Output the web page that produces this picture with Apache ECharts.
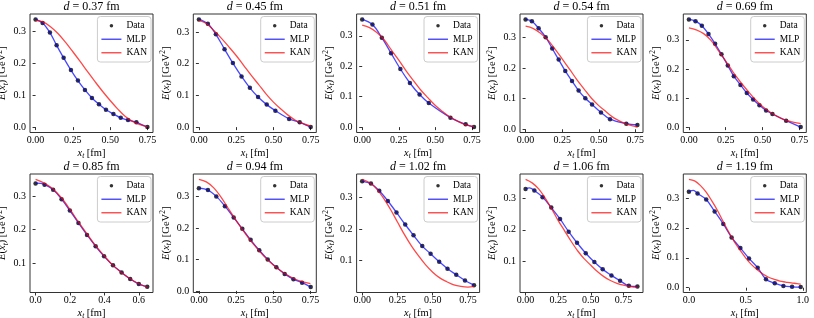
<!DOCTYPE html>
<html><head><meta charset="utf-8">
<script src="https://cdn.jsdelivr.net/npm/echarts@6/dist/echarts.min.js"></script>
<style>html,body{margin:0;padding:0;background:#fff}#c{width:814px;height:318px}</style>
</head><body><div id="c"></div>
<script>
// ---------- data ----------
const titles = ['0.37','0.45','0.51','0.54','0.69','0.85','0.94','1.02','1.06','1.19'];

const dataX1 = [0,0.047,0.096,0.141,0.188,0.237,0.284,0.331,0.378,0.425,0.472,0.522,0.571,0.62,0.676,0.75];
const dataY1 = [0.336,0.325,0.295,0.255,0.216,0.178,0.145,0.116,0.091,0.071,0.054,0.041,0.029,0.022,0.015,0.0];
const dataX2 = [0,0.06,0.114,0.172,0.228,0.286,0.342,0.397,0.455,0.513,0.605,0.676,0.75];
const dataY2 = [0.34,0.326,0.293,0.246,0.202,0.16,0.124,0.095,0.071,0.052,0.026,0.015,0.0];
const dataX3 = [0,0.07,0.134,0.197,0.261,0.326,0.392,0.455,0.603,0.707,0.764];
const dataY3 = [0.354,0.337,0.294,0.243,0.191,0.145,0.107,0.079,0.031,0.009,0.0];
const dataX4 = [0,0.043,0.089,0.137,0.182,0.226,0.271,0.317,0.362,0.408,0.454,0.515,0.577,0.688,0.764];
const dataY4 = [0.358,0.352,0.329,0.3,0.263,0.227,0.19,0.157,0.126,0.101,0.081,0.055,0.033,0.018,0.014];
const dataX5 = [0,0.045,0.088,0.133,0.178,0.221,0.264,0.305,0.35,0.393,0.436,0.479,0.524,0.567,0.66,0.759];
const dataY5 = [0.37,0.364,0.348,0.32,0.286,0.25,0.212,0.175,0.145,0.117,0.095,0.075,0.057,0.045,0.022,0.0];
const dataX6 = [0,0.052,0.102,0.151,0.199,0.249,0.299,0.349,0.398,0.45,0.5,0.55,0.6,0.649];
const dataY6 = [0.338,0.334,0.319,0.291,0.257,0.22,0.184,0.15,0.12,0.093,0.072,0.052,0.037,0.029];
const dataX7 = [0,0.061,0.117,0.175,0.234,0.292,0.348,0.406,0.463,0.521,0.577,0.636,0.694,0.752];
const dataY7 = [0.326,0.32,0.3,0.269,0.233,0.197,0.162,0.129,0.1,0.075,0.054,0.037,0.026,0.012];
const dataX8 = [0,0.062,0.121,0.182,0.243,0.305,0.364,0.426,0.485,0.546,0.605,0.667,0.729,0.793];
const dataY8 = [0.35,0.343,0.32,0.288,0.252,0.214,0.18,0.146,0.122,0.097,0.075,0.056,0.038,0.023];
const dataX9 = [0,0.067,0.13,0.197,0.264,0.33,0.394,0.461,0.527,0.591,0.658,0.724,0.791,0.857];
const dataY9 = [0.329,0.324,0.303,0.27,0.234,0.194,0.159,0.126,0.098,0.075,0.056,0.039,0.023,0.021];
const dataX10 = [0,0.076,0.152,0.226,0.302,0.375,0.452,0.528,0.604,0.677,0.754,0.83,0.906,0.982];
const dataY10 = [0.321,0.315,0.295,0.255,0.213,0.168,0.133,0.098,0.067,0.028,0.015,0.006,0.003,0.002];

const mlpX1 = dataX1, mlpY1 = dataY1;
const mlpX2 = dataX2, mlpY2 = dataY2;
const mlpX3 = dataX3, mlpY3 = dataY3;
const mlpX4 = dataX4, mlpY4 = dataY4;
const mlpX5 = dataX5, mlpY5 = dataY5;
const mlpX6 = [0,0.03,0.052,0.102,0.151,0.199,0.249,0.299,0.349,0.398,0.45,0.5,0.55,0.6,0.649];
const mlpY6 = [0.339,0.338,0.335,0.319,0.291,0.257,0.22,0.184,0.15,0.12,0.093,0.072,0.052,0.037,0.029];
const mlpX7 = dataX7, mlpY7 = dataY7;
const mlpX8 = dataX8, mlpY8 = dataY8;
const mlpX9 = [0,0.03,0.067,0.13,0.197,0.264,0.33,0.394,0.461,0.527,0.591,0.658,0.724,0.791,0.857];
const mlpY9 = [0.329,0.332,0.324,0.303,0.27,0.234,0.194,0.159,0.126,0.098,0.075,0.056,0.039,0.023,0.021];
const mlpX10 = [0,0.04,0.076,0.152,0.226,0.302,0.375,0.452,0.528,0.604,0.677,0.754,0.83,0.906,0.982];
const mlpY10 = [0.321,0.325,0.315,0.295,0.255,0.213,0.168,0.133,0.098,0.067,0.028,0.015,0.006,0.003,0.002];

const kanX1 = [0,0.05,0.1,0.15,0.2,0.25,0.3,0.35,0.4,0.45,0.5,0.55,0.6,0.65,0.7,0.75];
const kanY1 = [0.333,0.328,0.313,0.292,0.265,0.235,0.204,0.172,0.141,0.111,0.083,0.057,0.034,0.018,0.008,0.001];
const kanX2 = [0,0.05,0.1,0.15,0.2,0.25,0.3,0.35,0.4,0.45,0.5,0.55,0.6,0.65,0.7,0.75];
const kanY2 = [0.337,0.327,0.305,0.281,0.254,0.226,0.195,0.164,0.135,0.105,0.079,0.057,0.037,0.021,0.011,0.003];
const kanX3 = [0,0.05,0.1,0.15,0.2,0.25,0.3,0.35,0.4,0.45,0.5,0.55,0.6,0.65,0.7,0.75,0.764];
const kanY3 = [0.335,0.327,0.311,0.287,0.253,0.22,0.185,0.153,0.122,0.096,0.071,0.051,0.033,0.02,0.009,0.003,0.002];
const kanX4 = [0,0.05,0.1,0.15,0.2,0.25,0.3,0.35,0.4,0.45,0.5,0.55,0.6,0.65,0.7,0.75,0.764];
const kanY4 = [0.336,0.329,0.314,0.292,0.262,0.229,0.196,0.162,0.131,0.101,0.077,0.057,0.038,0.025,0.015,0.009,0.007];
const kanX5 = [0,0.05,0.1,0.15,0.2,0.25,0.3,0.35,0.4,0.45,0.5,0.55,0.6,0.65,0.7,0.75,0.759];
const kanY5 = [0.341,0.334,0.321,0.298,0.263,0.227,0.189,0.155,0.124,0.095,0.071,0.052,0.037,0.025,0.018,0.013,0.012];
const kanX6 = [0,0.05,0.1,0.15,0.2,0.25,0.3,0.35,0.4,0.45,0.5,0.55,0.6,0.65];
const kanY6 = [0.35,0.339,0.322,0.295,0.26,0.222,0.186,0.151,0.121,0.093,0.071,0.053,0.038,0.028];
const kanX7 = [0,0.05,0.1,0.15,0.2,0.25,0.3,0.35,0.4,0.45,0.5,0.55,0.6,0.65,0.7,0.75];
const kanY7 = [0.354,0.346,0.327,0.297,0.26,0.224,0.19,0.158,0.13,0.104,0.082,0.064,0.049,0.037,0.029,0.023];
const kanX8 = [0,0.05,0.1,0.15,0.2,0.25,0.3,0.35,0.4,0.45,0.5,0.55,0.6,0.65,0.7,0.75,0.793];
const kanY8 = [0.356,0.346,0.327,0.298,0.262,0.222,0.182,0.146,0.115,0.087,0.064,0.046,0.034,0.024,0.019,0.017,0.019];
const kanX9 = [0,0.05,0.1,0.15,0.2,0.25,0.3,0.35,0.4,0.45,0.5,0.55,0.6,0.65,0.7,0.75,0.8,0.85,0.857];
const kanY9 = [0.359,0.348,0.329,0.3,0.266,0.229,0.196,0.163,0.133,0.108,0.088,0.068,0.052,0.04,0.031,0.025,0.021,0.019,0.019];
const kanX10 = [0,0.05,0.1,0.15,0.2,0.25,0.3,0.35,0.4,0.45,0.5,0.55,0.6,0.65,0.7,0.75,0.8,0.85,0.9,0.95,0.982];
const kanY10 = [0.362,0.357,0.342,0.32,0.291,0.259,0.222,0.186,0.153,0.125,0.099,0.077,0.06,0.046,0.035,0.028,0.022,0.019,0.016,0.014,0.012];

const xTicksQuarter = [0,0.25,0.5,0.75];
const xTicksFifth = [0,0.2,0.4,0.6];
const xTicksHalf = [0,0.5,1.0];
const yTicksFrom0 = [0,0.1,0.2,0.3];
const yTicksFrom1 = [0.1,0.2,0.3];

// ---------- panels ----------
const panels = [
  {t:titles[0], dx:dataX1, dy:dataY1, mx:mlpX1, my:mlpY1, kx:kanX1, ky:kanY1, xt:xTicksQuarter, xd:2, yt:yTicksFrom0},
  {t:titles[1], dx:dataX2, dy:dataY2, mx:mlpX2, my:mlpY2, kx:kanX2, ky:kanY2, xt:xTicksQuarter, xd:2, yt:yTicksFrom0},
  {t:titles[2], dx:dataX3, dy:dataY3, mx:mlpX3, my:mlpY3, kx:kanX3, ky:kanY3, xt:xTicksQuarter, xd:2, yt:yTicksFrom0},
  {t:titles[3], dx:dataX4, dy:dataY4, mx:mlpX4, my:mlpY4, kx:kanX4, ky:kanY4, xt:xTicksQuarter, xd:2, yt:yTicksFrom0},
  {t:titles[4], dx:dataX5, dy:dataY5, mx:mlpX5, my:mlpY5, kx:kanX5, ky:kanY5, xt:xTicksQuarter, xd:2, yt:yTicksFrom0},
  {t:titles[5], dx:dataX6, dy:dataY6, mx:mlpX6, my:mlpY6, kx:kanX6, ky:kanY6, xt:xTicksFifth, xd:1, yt:yTicksFrom1},
  {t:titles[6], dx:dataX7, dy:dataY7, mx:mlpX7, my:mlpY7, kx:kanX7, ky:kanY7, xt:xTicksQuarter, xd:2, yt:yTicksFrom0},
  {t:titles[7], dx:dataX8, dy:dataY8, mx:mlpX8, my:mlpY8, kx:kanX8, ky:kanY8, xt:xTicksQuarter, xd:2, yt:yTicksFrom1},
  {t:titles[8], dx:dataX9, dy:dataY9, mx:mlpX9, my:mlpY9, kx:kanX9, ky:kanY9, xt:xTicksQuarter, xd:2, yt:yTicksFrom1},
  {t:titles[9], dx:dataX10, dy:dataY10, mx:mlpX10, my:mlpY10, kx:kanX10, ky:kanY10, xt:xTicksHalf, xd:1, yt:yTicksFrom0}
];

// ---------- layout & style ----------
const W = 814;
const FONT = '"Liberation Serif","DejaVu Serif",serif';
const gridLefts = [30, 193.3, 356.6, 520, 683.3];
const gridTops = [14, 174];
const GW = 123, GH = 118.5;
const BLUE = 'rgba(0,0,255,0.72)', RED = 'rgba(255,0,0,0.72)';
const lineIcon = 'path://M0,0L20,0L20,1.4L0,1.4Z';

function zip(a, b) { return a.map((v, i) => [v, b[i]]); }
function pad(vals) {
  const mn = Math.min(...vals), mx = Math.max(...vals), m = (mx - mn) * 0.05;
  return [mn - m, mx + m];
}
const richBase = {
  i: {fontFamily: FONT, fontStyle: 'italic', fontSize: 10.5, lineHeight: 14},
  n: {fontFamily: FONT, fontSize: 10.5, lineHeight: 14},
  sub: {fontFamily: FONT, fontStyle: 'italic', fontSize: 7.5, lineHeight: 8, verticalAlign: 'bottom'},
  sup: {fontFamily: FONT, fontSize: 7.5, lineHeight: 8, verticalAlign: 'top'}
};

const grid = [], xAxis = [], yAxis = [], series = [], legend = [], graphic = [];
panels.forEach((p, i) => {
  const col = i % 5, row = Math.floor(i / 5);
  const gl = gridLefts[col], gt = gridTops[row];
  grid.push({left: gl, top: gt, width: GW, height: GH, show: true,
    borderColor: '#333', borderWidth: 1, backgroundColor: 'transparent', containLabel: false, outerBoundsMode: 'none'});
  const xr = pad(p.dx.concat(p.mx, p.kx));
  const yr = pad(p.dy.concat(p.my, p.ky));
  const axisCommon = {
    axisLine: {show: false},
    splitLine: {show: false},
    nameTextStyle: {fontFamily: FONT, fontSize: 10.5, color: '#000', lineHeight: 14, rich: richBase}
  };
  xAxis.push(Object.assign({}, axisCommon, {
    gridIndex: i, type: 'value', min: xr[0], max: xr[1],
    axisTick: {show: true, length: 3, customValues: p.xt, lineStyle: {color: '#333', width: 1}},
    axisLabel: {customValues: p.xt, formatter: v => v.toFixed(p.xd), margin: 3,
      fontFamily: FONT, fontSize: 10, color: '#000'},
    name: '{i|x}{sub|t}{n| [fm]}', nameLocation: 'middle', nameGap: 12
  }));
  yAxis.push(Object.assign({}, axisCommon, {
    gridIndex: i, type: 'value', min: yr[0], max: yr[1],
    axisTick: {show: true, length: 3, customValues: p.yt, lineStyle: {color: '#333', width: 1}},
    axisLabel: {customValues: p.yt, formatter: v => v.toFixed(1), margin: 4,
      fontFamily: FONT, fontSize: 10, color: '#000'},
    name: '{i|E}{n|(}{i|x}{sub|t}{n|) [GeV}{sup|2}{n|]}', nameLocation: 'middle', nameGap: 15, nameRotate: 90
  }));
  series.push({type: 'scatter', name: 'Data', xAxisIndex: i, yAxisIndex: i, data: zip(p.dx, p.dy),
    symbolSize: 4.5, itemStyle: {color: '#000'}, z: 2, silent: true});
  series.push({type: 'line', name: 'MLP', xAxisIndex: i, yAxisIndex: i, data: zip(p.mx, p.my),
    smooth: 0.35, symbol: 'none', showSymbol: false, lineStyle: {color: BLUE, width: 1.3},
    itemStyle: {color: BLUE}, z: 3, silent: true});
  series.push({type: 'line', name: 'KAN', xAxisIndex: i, yAxisIndex: i, data: zip(p.kx, p.ky),
    smooth: 0.35, symbol: 'none', showSymbol: false, lineStyle: {color: RED, width: 1.3},
    itemStyle: {color: RED}, z: 4, silent: true});
  legend.push({
    orient: 'vertical', right: W - (gl + GW - 2), top: gt + 2.5, selectedMode: false,
    padding: [4, 4, 4, 4], itemWidth: 20, itemHeight: 3.5, itemGap: 3, itemTextGap: 8,
    backgroundColor: 'rgba(255,255,255,0.8)', borderColor: '#cccccc', borderWidth: 1, borderRadius: 3,
    textStyle: {fontFamily: FONT, fontSize: 9.5, color: '#000', lineHeight: 10.5},
    data: [
      {name: 'Data', icon: 'circle', itemStyle: {color: '#000', borderWidth: 0}},
      {name: 'MLP', icon: lineIcon, itemStyle: {color: BLUE, borderWidth: 0}},
      {name: 'KAN', icon: lineIcon, itemStyle: {color: RED, borderWidth: 0}}
    ]
  });
  graphic.push({type: 'text', silent: true, x: gl + GW / 2, y: gt - 7.5,
    style: {text: '{i|d} = ' + p.t + ' fm', align: 'center', verticalAlign: 'middle',
      fontFamily: FONT, fontSize: 12, fill: '#000',
      rich: {i: {fontFamily: FONT, fontStyle: 'italic', fontSize: 12, fill: '#000'}}}});
});

const chart = echarts.init(document.getElementById('c'), null, {renderer: 'canvas'});
chart.setOption({animation: false, backgroundColor: '#fff', grid, xAxis, yAxis, series, legend, graphic});
</script></body></html>
